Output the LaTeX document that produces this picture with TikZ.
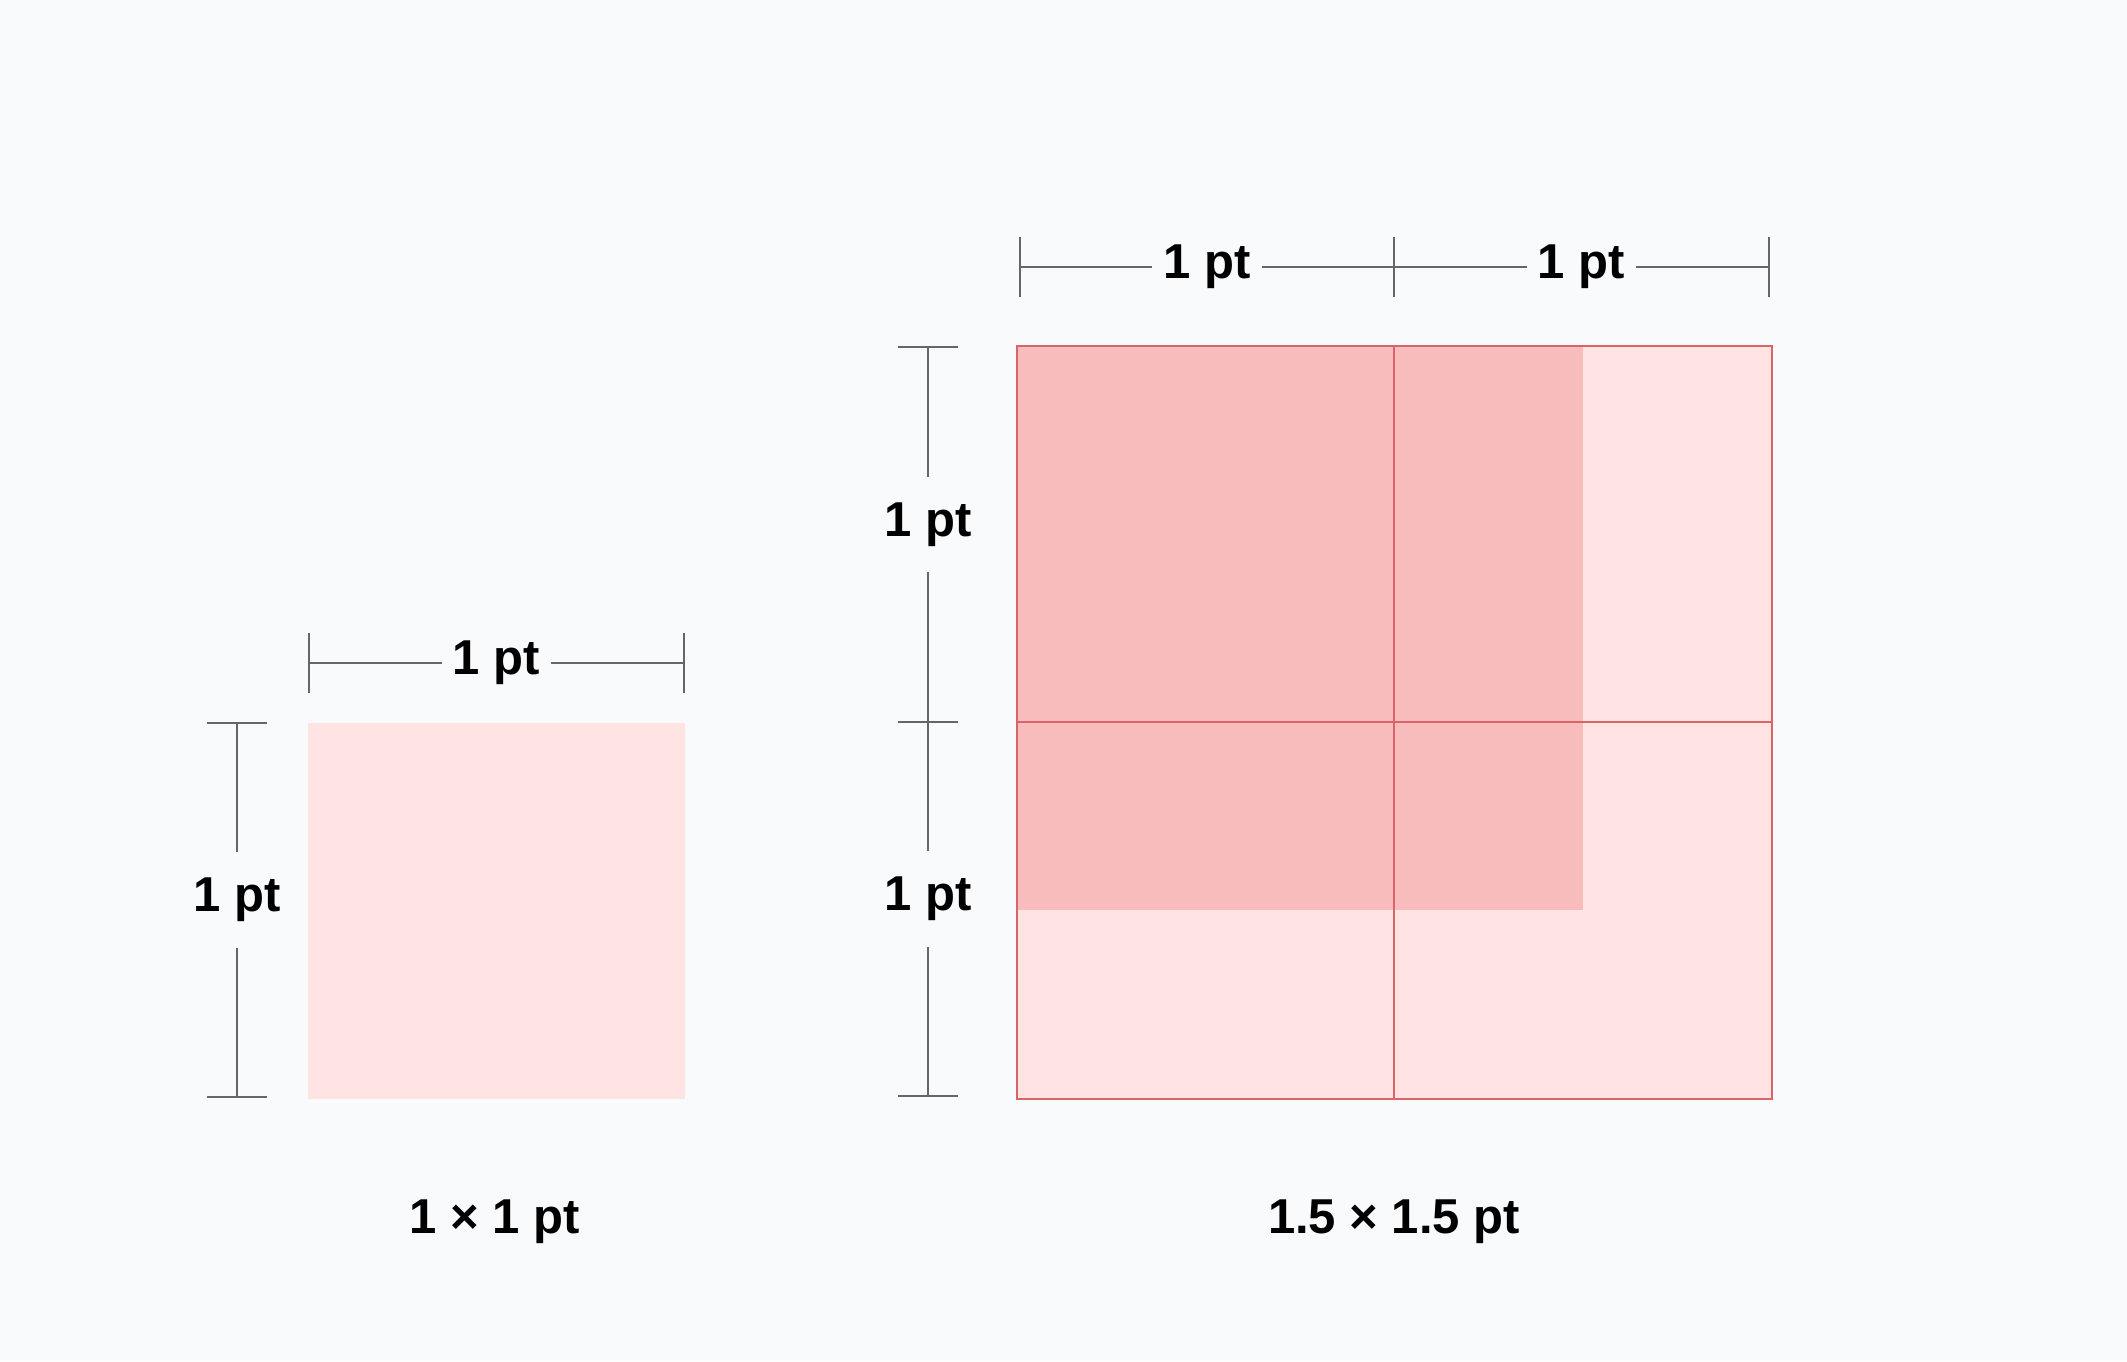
\documentclass[tikz,border=0pt]{standalone}
\usepackage{fontspec}
\setmainfont{Liberation Sans}

\definecolor{bg}{HTML}{F9FAFC}
\definecolor{lightpink}{HTML}{FFE4E3}
\definecolor{darkpink}{HTML}{F8BCBC}
\definecolor{gridred}{HTML}{D9646A}
\definecolor{dimgray}{HTML}{666666}

\tikzset{
  dimline/.style={draw=dimgray, line width=1.6pt},
  dimlabel/.style={fill=bg, inner xsep=11pt, inner ysep=4pt,
    font=\fontsize{49}{58}\selectfont\bfseries},
  sidelabel/.style={dimlabel, inner ysep=26pt, yshift=10pt},
  caption/.style={font=\fontsize{49}{58}\selectfont\bfseries},
}

\begin{document}
\begin{tikzpicture}[x=1pt, y=-1pt]
  % Background, image size 2127 x 1361
  \fill[bg] (0,0) rectangle (2127,1361);
  \useasboundingbox (0,0) rectangle (2127,1361);

  % Left: 1 x 1 pt square
  \fill[lightpink] (308,723) rectangle (685,1099);

  % Right: 1.5 x 1.5 pt square on a 2 x 2 grid
  \fill[lightpink] (1017,346) rectangle (1772,1099);
  \fill[darkpink] (1017,346) rectangle (1583,910);
  \draw[gridred, line width=1.6pt] (1017,346) rectangle (1772,1099);
  \draw[gridred, line width=1.6pt] (1394,346) -- (1394,1099);
  \draw[gridred, line width=1.6pt] (1017,722) -- (1772,722);

  % Dimension end points
  \coordinate (ltopa) at (309,663);
  \coordinate (ltopb) at (684,663);
  \coordinate (lsidea) at (237,723);
  \coordinate (lsideb) at (237,1097);
  \coordinate (rtopa) at (1020,267);
  \coordinate (rtopm) at (1394,267);
  \coordinate (rtopb) at (1769,267);
  \coordinate (rsidea) at (928,347);
  \coordinate (rsidem) at (928,722);
  \coordinate (rsideb) at (928,1096);

  % Horizontal dimensions
  \draw[dimline] (ltopa) -- (ltopb) node[dimlabel, midway] (ltoplbl) {1 pt};
  \draw[dimline] (rtopa) -- (rtopm) node[dimlabel, midway] (rtoplbl1) {1 pt};
  \draw[dimline] (rtopm) -- (rtopb) node[dimlabel, midway] (rtoplbl2) {1 pt};
  \foreach \p in {ltopa, ltopb, rtopa, rtopm, rtopb}
    \draw[dimline] ([yshift=-30pt]\p) -- ([yshift=30pt]\p);

  % Vertical dimensions
  \draw[dimline] (lsidea) -- (lsideb) node[sidelabel, midway] (lsidelbl) {1 pt};
  \draw[dimline] (rsidea) -- (rsidem) node[sidelabel, midway] (rsidelbl1) {1 pt};
  \draw[dimline] (rsidem) -- (rsideb) node[sidelabel, midway] (rsidelbl2) {1 pt};
  \foreach \p in {lsidea, lsideb, rsidea, rsidem, rsideb}
    \draw[dimline] ([xshift=-30pt]\p) -- ([xshift=30pt]\p);

  % Captions
  \node[caption] (capleft) at (495,1222) {1 × 1 pt};
  \node[caption] (capright) at (1394,1222) {1.5 × 1.5 pt};
\end{tikzpicture}
\end{document}
